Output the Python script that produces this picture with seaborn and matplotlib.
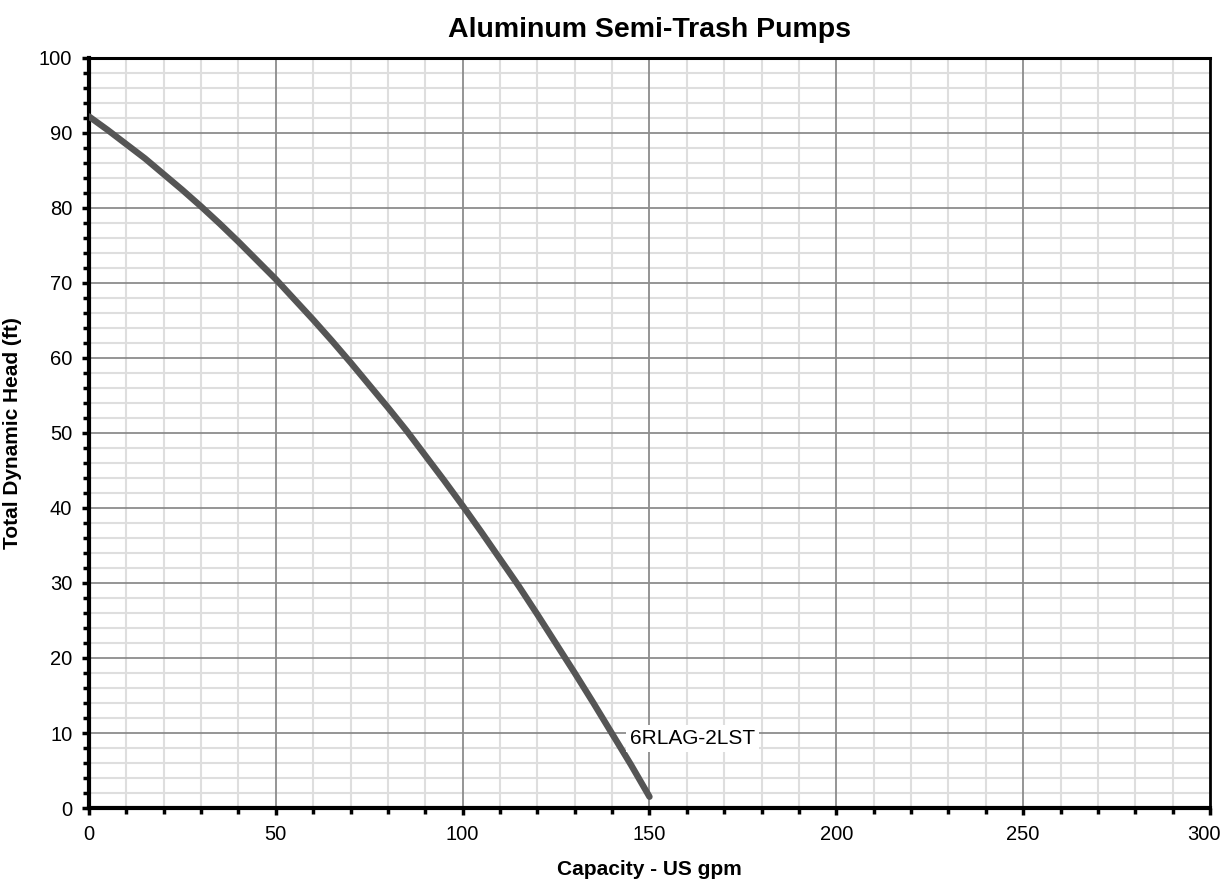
import numpy as np
import pandas as pd
import seaborn as sns
import matplotlib.pyplot as plt
from matplotlib.ticker import MultipleLocator

# pump curve
capacity = [0, 5, 10, 15, 20, 25, 30, 35, 40, 45, 50, 55, 60, 65, 70, 75, 80, 85,
            90, 95, 100, 105, 110, 115, 120, 125, 130, 135, 140, 145, 150]
head = [92.2, 90.4, 88.5, 86.6, 84.5, 82.4, 80.2, 77.9, 75.5, 73.0, 70.5, 67.8,
        65.1, 62.3, 59.4, 56.4, 53.4, 50.3, 47.0, 43.7, 40.3, 36.8, 33.2, 29.6,
        25.8, 21.9, 18.0, 14.0, 9.9, 5.8, 1.5]
model = '6RLAG-2LST'
x_ticks = [0, 50, 100, 150, 200, 250, 300]
x_labels = ['0', '50', '100', '150', '200', '250', '300']
y_ticks = [0, 10, 20, 30, 40, 50, 60, 70, 80, 90, 100]

tab = pd.DataFrame({'capacity': capacity, 'head': head})

sns.set_style('white')
plt.rcParams['font.family'] = ['Liberation Sans', 'DejaVu Sans']
plt.rcParams['text.color'] = 'black'
plt.rcParams['axes.labelcolor'] = 'black'
plt.rcParams['xtick.color'] = 'black'
plt.rcParams['ytick.color'] = 'black'

fig = plt.figure(figsize=(12.22, 8.85), dpi=100)
ax = fig.add_axes([0.0728, 0.087, 0.9174, 0.8475])

sns.lineplot(data=tab, x='capacity', y='head', color='#555555', linewidth=4.6,
             solid_capstyle='round', solid_joinstyle='round', ax=ax, zorder=5)

ax.set_xlim(0, 300)
ax.set_ylim(0, 100)
# last x label is drawn separately so it stays inside the figure
ax.set_xticks(x_ticks, x_labels[:-1] + [''])
ax.set_yticks(y_ticks)
ax.xaxis.set_minor_locator(MultipleLocator(10))
ax.yaxis.set_minor_locator(MultipleLocator(2))

# light minor grid below, darker major grid on top of it
ax.grid(which='minor', color='#dedede', linewidth=1.5)
ax.grid(which='major', visible=False)
ax.set_axisbelow(True)
for xv in x_ticks[1:-1]:
    ax.axvline(xv, color='#8c8c8c', linewidth=1.3, zorder=1)
for yv in y_ticks[1:-1]:
    ax.axhline(yv, color='#8c8c8c', linewidth=1.3, zorder=1)

ax.tick_params(which='major', direction='out', length=5, width=2.5,
               labelsize=14.5, pad=7)
ax.tick_params(which='minor', direction='out', length=4, width=2.5)
ax.tick_params(axis='y', which='both', left=True)
ax.tick_params(axis='x', which='both', bottom=True)

ax.annotate(x_labels[-1], xy=(x_ticks[-1], 0), xycoords=('data', 'axes fraction'),
            xytext=(8, -12), textcoords='offset points', ha='right', va='top',
            fontsize=14.5, annotation_clip=False)

for side, w in [('left', 3), ('bottom', 3), ('top', 2.2), ('right', 2)]:
    ax.spines[side].set_color('black')
    ax.spines[side].set_linewidth(w)

ax.set_xlabel('Capacity - US gpm', fontsize=15, fontweight='bold', labelpad=12)
ax.set_ylabel('Total Dynamic Head (ft)', fontsize=15, fontweight='bold', labelpad=12)
ax.set_title('Aluminum Semi-Trash Pumps', fontsize=20.5, fontweight='bold', pad=15)

ax.text(161.5, 9.3, model, fontsize=15, ha='center', va='center', zorder=6,
        bbox=dict(facecolor='white', edgecolor='none', pad=3))

fig.savefig('out.png', dpi=100)
